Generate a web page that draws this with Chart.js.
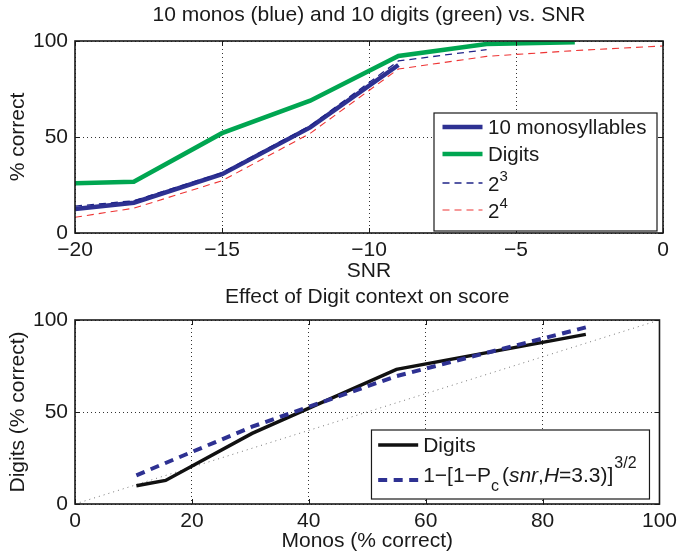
<!DOCTYPE html>
<html>
<head>
<meta charset="utf-8">
<script src="https://cdn.jsdelivr.net/npm/chart.js@4/dist/chart.umd.min.js"></script>
<style>
  html, body { margin: 0; padding: 0; background: #fff; }
  #wrap { position: relative; width: 682px; height: 557px; overflow: hidden; }
  canvas { position: absolute; left: 0; }
  #snrChart { top: 0; }
  #ctxChart { top: 280px; }
</style>
</head>
<body>
<div id="wrap">
  <canvas id="snrChart" width="682" height="290"></canvas>
  <canvas id="ctxChart" width="682" height="277"></canvas>
</div>
<script>
// ---- Percent correct vs. SNR (dB) ----
const snrTicks = [-20, -15, -10, -5, 0];
const pctTicks = [0, 50, 100];

const snrMonos = [-20, -18, -15, -12, -9];
const monosScore = [12.5, 15.8, 30.6, 55.0, 87.5];

const snrDigits = [-20, -18, -15, -12, -9, -6, -3];
const digitsScore = [25.9, 26.7, 52.0, 68.9, 92.2, 98.4, 99.3];

const snrPow3 = [-20, -18, -15, -12, -9, -6];
const pow3Score = [14.0, 16.8, 31.4, 55.9, 89.6, 95.5];

const snrPow4 = [-20, -18, -15, -12, -9, -6, -3, 0];
const pow4Score = [8.2, 12.9, 27.2, 51.9, 85.4, 92.0, 95.0, 97.4];

// ---- Digit score against monosyllable score ----
const monosTicks = [0, 20, 40, 60, 80, 100];
const monosPct = [10.5, 15.5, 30.3, 55.0, 87.4];
const digitsPct = [9.9, 12.8, 38.4, 73.2, 92.2];
const modelPct = [15.6, 22.3, 42.0, 69.5, 96.0];
const diagPct = [0, 100];

// legend text, split into runs so exponents and subscripts can be set
const snrLegendRows = [
  [{ t: '10 monosyllables' }],
  [{ t: 'Digits' }],
  [{ t: '2' }, { t: '3', sup: true }],
  [{ t: '2' }, { t: '4', sup: true }]
];
const ctxLegendRows = [
  [{ t: 'Digits' }],
  [{ t: '1\u2212[1\u2212P' }, { t: 'c', sub: true, after: 3 }, { t: '(' }, { t: 'snr', it: true },
   { t: ',' }, { t: 'H', it: true }, { t: '=3.3)]', after: 1 }, { t: '3/2', sup: true }]
];

const FONT = "'Liberation Sans', Arial, Helvetica, sans-serif";
const INK = '#1a1a1a';
const BLUE = '#2e3192';
const GREEN = '#00a651';
const NAVY = '#1f2488';
const RED = '#ee3535';

const pts = (xs, ys) => xs.map((x, i) => ({ x, y: ys[i] }));
const fixTicks = list => s => { s.ticks = list.map(v => ({ value: v })); };
const minus = v => (v < 0 ? '\u2212' + Math.abs(v) : String(v));

// title centred over the plot area rather than the whole canvas
function plotTitle(text, centreY) {
  return {
    id: 'plotTitle',
    afterDraw(chart) {
      const { ctx, chartArea: a } = chart;
      ctx.save();
      ctx.fillStyle = INK;
      ctx.font = '21px ' + FONT;
      ctx.textAlign = 'center';
      ctx.textBaseline = 'middle';
      ctx.fillText(text, (a.left + a.right) / 2, centreY);
      ctx.restore();
    }
  };
}

// closed box with short inward tick marks on all four sides
const frame = {
  id: 'frame',
  afterDatasetsDraw(chart) {
    const { ctx, chartArea: a, scales: { x, y } } = chart;
    ctx.save();
    ctx.setLineDash([]);
    ctx.strokeStyle = INK;
    ctx.lineWidth = 1;
    ctx.beginPath();
    x.ticks.forEach(t => {
      const px = Math.round(x.getPixelForValue(t.value)) + 0.5;
      ctx.moveTo(px, a.bottom); ctx.lineTo(px, a.bottom - 5);
      ctx.moveTo(px, a.top); ctx.lineTo(px, a.top + 5);
    });
    y.ticks.forEach(t => {
      const py = Math.round(y.getPixelForValue(t.value)) + 0.5;
      ctx.moveTo(a.left, py); ctx.lineTo(a.left + 5, py);
      ctx.moveTo(a.right, py); ctx.lineTo(a.right - 5, py);
    });
    ctx.stroke();
    ctx.lineWidth = 1.6;
    ctx.strokeRect(a.left, a.top, a.right - a.left, a.bottom - a.top);
    ctx.restore();
  }
};

// boxed legend placed in the lower-right corner of the plot area
function boxLegend(cfg) {
  return {
    id: 'boxLegend',
    afterDraw(chart) {
      const { ctx, chartArea: a } = chart;
      const x0 = a.right - cfg.right - cfg.width;
      const y0 = a.bottom - cfg.bottom - cfg.height;
      ctx.save();
      ctx.setLineDash([]);
      ctx.fillStyle = '#fff';
      ctx.fillRect(x0, y0, cfg.width, cfg.height);
      ctx.strokeStyle = INK;
      ctx.lineWidth = 1.2;
      ctx.strokeRect(x0, y0, cfg.width, cfg.height);
      cfg.rows.forEach((parts, i) => {
        const ds = chart.data.datasets[cfg.datasets[i]];
        const ly = y0 + cfg.rowY[i];
        ctx.save();
        ctx.beginPath();
        ctx.strokeStyle = ds.borderColor;
        ctx.lineWidth = ds.borderWidth;
        ctx.setLineDash(ds.borderDash || []);
        ctx.lineCap = 'butt';
        ctx.moveTo(x0 + cfg.sampleX, ly);
        ctx.lineTo(x0 + cfg.sampleX + cfg.sampleLen, ly);
        ctx.stroke();
        ctx.restore();
        let tx = x0 + cfg.textX;
        ctx.fillStyle = INK;
        ctx.textBaseline = 'middle';
        ctx.textAlign = 'left';
        parts.forEach(p => {
          const size = (p.sup || p.sub) ? cfg.smallSize : cfg.size;
          ctx.font = (p.it ? 'italic ' : '') + size + 'px ' + FONT;
          const dy = cfg.textDy[i] + (p.sup ? -cfg.supRaise : 0) + (p.sub ? cfg.subDrop : 0);
          ctx.fillText(p.t, tx, ly + dy);
          tx += ctx.measureText(p.t).width + (p.after || 0);
        });
      });
      ctx.restore();
    }
  };
}

const axisFont = { family: FONT, size: 21, weight: 'normal', lineHeight: 1.2 };
const gridOpts = { color: 'rgba(0,0,0,0.8)', lineWidth: 1, drawTicks: false };
const borderOpts = { display: false, dash: [1, 3] };

const baseOptions = {
  responsive: false,
  animation: false,
  devicePixelRatio: 1,
  elements: { point: { radius: 0 }, line: { tension: 0, fill: false, borderCapStyle: 'butt' } }
};

new Chart(document.getElementById('snrChart'), {
  type: 'line',
  data: {
    datasets: [
      { label: '10 monosyllables', data: pts(snrMonos, monosScore), borderColor: BLUE, borderWidth: 4.5, order: 2 },
      { label: 'Digits', data: pts(snrDigits, digitsScore), borderColor: GREEN, borderWidth: 4.5, order: 3 },
      { label: '2^3', data: pts(snrPow3, pow3Score), borderColor: NAVY, borderWidth: 1.3, borderDash: [7, 5], order: 1 },
      { label: '2^4', data: pts(snrPow4, pow4Score), borderColor: RED, borderWidth: 1.1, borderDash: [7, 5], order: 0 }
    ]
  },
  options: Object.assign({}, baseOptions, {
    layout: { padding: { left: 0, right: 19, top: 41, bottom: 0 } },
    plugins: {
      legend: { display: false },
      tooltip: { enabled: false },
      title: { display: false }
    },
    scales: {
      x: {
        type: 'linear', min: -20, max: 0,
        afterBuildTicks: fixTicks(snrTicks),
        afterFit: s => { s.height = 57; },
        grid: gridOpts, border: borderOpts,
        ticks: { color: INK, font: axisFont, padding: 5, maxRotation: 0, callback: minus },
        title: { display: true, text: 'SNR', color: INK, font: axisFont, padding: { top: 0, bottom: 6 } }
      },
      y: {
        type: 'linear', min: 0, max: 100,
        afterBuildTicks: fixTicks(pctTicks),
        afterFit: s => { s.width = 75; },
        grid: gridOpts, border: borderOpts,
        ticks: { color: INK, font: axisFont, padding: 7 },
        title: { display: true, text: '% correct', color: INK, font: axisFont, padding: { top: 6, bottom: 0 } }
      }
    }
  }),
  plugins: [frame, plotTitle('10 monos (blue) and 10 digits (green) vs. SNR', 15), boxLegend({
    rows: snrLegendRows, datasets: [0, 1, 2, 3],
    right: 6, bottom: 2, width: 223, height: 118,
    rowY: [14, 41, 70, 97], textDy: [1, 1, 2.5, 2.5],
    sampleX: 8.5, sampleLen: 40, textX: 54,
    size: 20.5, smallSize: 15, supRaise: 9, subDrop: 8
  })]
});

new Chart(document.getElementById('ctxChart'), {
  type: 'line',
  data: {
    datasets: [
      { label: 'Digits', data: pts(monosPct, digitsPct), borderColor: '#111111', borderWidth: 3.5, order: 1 },
      { label: '1-[1-Pc(snr,H=3.3)]^3/2', data: pts(monosPct, modelPct), borderColor: BLUE, borderWidth: 4, borderDash: [9, 6.5], order: 0 },
      { label: 'equal', data: pts(diagPct, diagPct), borderColor: '#777777', borderWidth: 1, borderDash: [1, 4], order: 2 }
    ]
  },
  options: Object.assign({}, baseOptions, {
    layout: { padding: { left: 0, right: 19, top: 40, bottom: 0 } },
    plugins: {
      legend: { display: false },
      tooltip: { enabled: false },
      title: { display: false }
    },
    scales: {
      x: {
        type: 'linear', min: 0, max: 100,
        afterBuildTicks: fixTicks(monosTicks),
        afterFit: s => { s.height = 53; },
        grid: gridOpts, border: borderOpts,
        ticks: { color: INK, font: axisFont, padding: 5, maxRotation: 0 },
        title: { display: true, text: 'Monos (% correct)', color: INK, font: axisFont, padding: { top: 0, bottom: 3 } }
      },
      y: {
        type: 'linear', min: 0, max: 100,
        afterBuildTicks: fixTicks(pctTicks),
        afterFit: s => { s.width = 75; },
        grid: gridOpts, border: borderOpts,
        ticks: { color: INK, font: axisFont, padding: 7 },
        title: { display: true, text: 'Digits (% correct)', color: INK, font: axisFont, padding: { top: 6, bottom: 0 } }
      }
    }
  }),
  plugins: [frame, plotTitle('Effect of Digit context on score', 17), boxLegend({
    rows: ctxLegendRows, datasets: [0, 1],
    right: 10, bottom: 5, width: 278, height: 69,
    rowY: [15, 50], textDy: [1, -4],
    sampleX: 6.7, sampleLen: 40, textX: 51.7,
    size: 21, smallSize: 16, supRaise: 12, subDrop: 11
  })]
});
</script>
</body>
</html>
